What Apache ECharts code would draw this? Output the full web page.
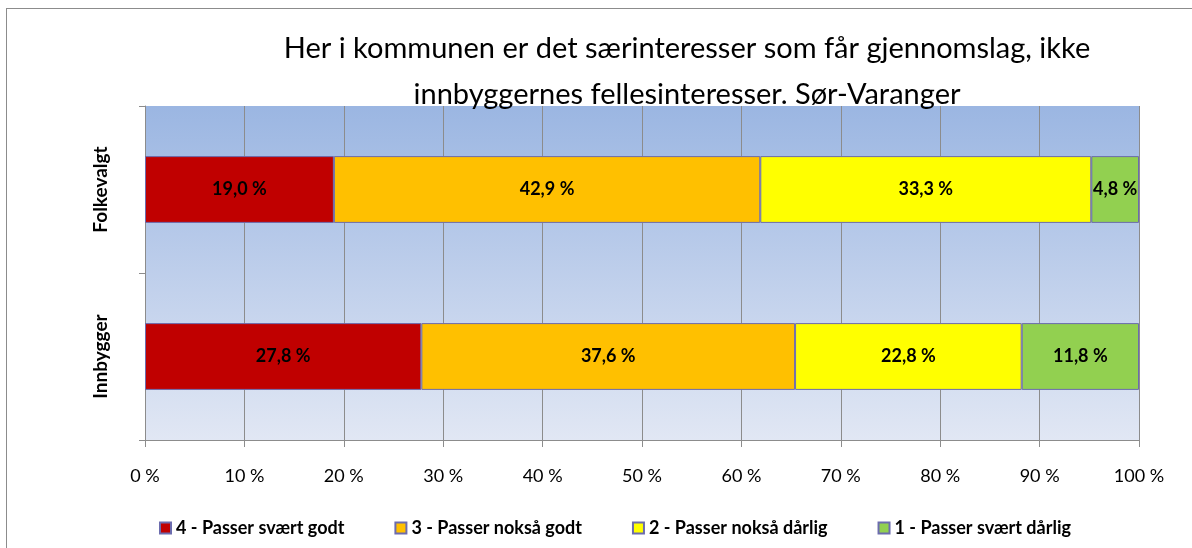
<!DOCTYPE html>
<html>
<head>
<meta charset="utf-8">
<script src="https://cdn.jsdelivr.net/npm/echarts@6/dist/echarts.min.js"></script>
<style>
  html, body { margin: 0; padding: 0; background: #fff; }
  #frame { position: absolute; left: 6px; top: 8px; width: 1400px; height: 800px; border: 1px solid #8c8c8c; }
  #chart { position: absolute; left: 0; top: 0; width: 1192px; height: 548px; }
</style>
</head>
<body>
<div id="frame"></div>
<div id="chart"></div>
<script>
// kategorier og verdier (prosent)
const categories = ['Folkevalgt', 'Innbygger'];
const seriesNames = ['4 - Passer svært godt', '3 - Passer nokså godt', '2 - Passer nokså dårlig', '1 - Passer svært dårlig'];
const svaertGodt = [19.0, 27.8];
const noksaGodt = [42.9, 37.6];
const noksaDarlig = [33.3, 22.8];
const svaertDarlig = [4.8, 11.8];
const colors = ['#C00000', '#FFC000', '#FFFF00', '#92D050'];
const tickLabels = ['0 %', '10 %', '20 %', '30 %', '40 %', '50 %', '60 %', '70 %', '80 %', '90 %', '100 %'];

const FONT = 'Lato, "Open Sans", sans-serif';
const chart = echarts.init(document.getElementById('chart'));

const values = [svaertGodt, noksaGodt, noksaDarlig, svaertDarlig];
const series = seriesNames.map((name, i) => ({
  name: name,
  type: 'bar',
  stack: 'total',
  barWidth: '40%',
  data: values[i],
  itemStyle: { color: colors[i], borderColor: '#6c6cae', borderWidth: 1 },
  label: {
    show: true,
    position: 'inside',
    color: '#000',
    fontWeight: 'bold',
    fontSize: 18,
    fontFamily: FONT,
    formatter: (p) => p.value.toFixed(1).replace('.', ',') + ' %'
  },
  emphasis: { disabled: true }
}));

chart.setOption({
  animation: false,
  title: {
    text: 'Her i kommunen er det særinteresser som får gjennomslag, ikke\ninnbyggernes fellesinteresser. Sør-Varanger',
    left: 682,
    textAlign: 'center',
    top: 21,
    textStyle: { fontFamily: FONT, fontWeight: 'normal', fontSize: 29, color: '#000', lineHeight: 46 }
  },
  legend: {
    data: seriesNames,
    left: 154,
    top: 514,
    icon: 'rect',
    itemWidth: 11,
    itemHeight: 11,
    itemGap: 50,
    textStyle: { fontFamily: FONT, fontWeight: 'bold', fontSize: 18, color: '#000' }
  },
  grid: {
    left: 145, right: 53, top: 106, bottom: 108,
    show: true,
    borderWidth: 0,
    backgroundColor: new echarts.graphic.LinearGradient(0, 0, 0, 1, [
      { offset: 0, color: '#9bb6e2' },
      { offset: 1, color: '#e1e7f4' }
    ])
  },
  xAxis: {
    type: 'value',
    min: 0,
    max: 100,
    interval: 10,
    axisLine: { show: true, lineStyle: { color: '#8c8c8c' } },
    axisTick: { show: true, length: 7, lineStyle: { color: '#8c8c8c' } },
    splitLine: { show: true, lineStyle: { color: '#8c8c8c', width: 1 } },
    axisLabel: {
      margin: 27,
      fontFamily: FONT,
      fontSize: 18,
      color: '#000',
      formatter: (v) => tickLabels[Math.round(v / 10)]
    }
  },
  yAxis: {
    type: 'category',
    inverse: true,
    data: categories,
    axisLine: { show: true, lineStyle: { color: '#8c8c8c' } },
    axisTick: { show: true, length: 6, lineStyle: { color: '#8c8c8c' } },
    axisLabel: {
      rotate: 90,
      margin: 35,
      fontFamily: FONT,
      fontWeight: 'bold',
      fontSize: 19,
      color: '#000'
    }
  },
  series: series
});
</script>
</body>
</html>
